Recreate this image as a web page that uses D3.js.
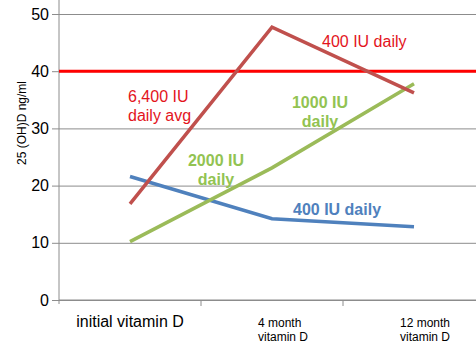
<!DOCTYPE html>
<html>
<head>
<meta charset="utf-8">
<script src="https://cdn.jsdelivr.net/npm/d3@7"></script>
<style>
  body { margin: 0; background: #fff; }
  svg { display: block; font-family: "Liberation Sans", Arial, sans-serif; }
</style>
</head>
<body>
<div id="chart"></div>
<script>
'use strict';

// Data.
var categories = ['initial vitamin D', '4 month vitamin D', '12 month vitamin D'];
var dose6400 = [16.8, 47.7, 36.2];
var dose2000 = [10.2, 23.1, 37.8];
var dose400 = [21.6, 14.2, 12.8];
var targetLevel = 40;
var yTicks = [0, 10, 20, 30, 40, 50];

var width = 476,
    height = 351,
    margin = {top: 0, left: 59, bottom: 51},
    plotRight = 485;

var svg = d3.select('#chart').append('svg')
    .attr('width', width)
    .attr('height', height);

var x = d3.scaleBand()
    .domain(categories)
    .range([margin.left, plotRight]);

var y = d3.scaleLinear()
    .domain([0, 50])
    .range([300, 14]);

// Grid lines.
svg.append('g')
    .attr('class', 'grid')
    .attr('transform', 'translate(' + margin.left + ',0)')
    .call(d3.axisLeft(y).tickValues(yTicks).tickSize(-(plotRight - margin.left)).tickFormat(''))
    .call(function (g) {
        g.select('.domain').remove();
        g.selectAll('line').attr('stroke', '#8c8c8c').attr('stroke-width', 1);
    });

// Left axis.
svg.append('g')
    .attr('class', 'axis')
    .attr('transform', 'translate(' + margin.left + ',0)')
    .call(d3.axisLeft(y).tickValues(yTicks).tickSize(7).tickPadding(3))
    .call(function (g) {
        g.select('.domain').remove();
        g.selectAll('line').attr('stroke', '#8c8c8c');
        g.selectAll('text').attr('font-size', '16px').attr('fill', '#000');
    });

svg.append('line')
    .attr('x1', margin.left).attr('x2', margin.left)
    .attr('y1', 0).attr('y2', y(0) + 4)
    .attr('stroke', '#8c8c8c');

// Bottom axis with band ticks.
svg.append('line')
    .attr('x1', margin.left).attr('x2', width)
    .attr('y1', y(0)).attr('y2', y(0))
    .attr('stroke', '#8c8c8c');

svg.selectAll('.band-tick')
    .data(categories.slice(1))
    .enter().append('line')
    .attr('class', 'band-tick')
    .attr('x1', function (d) { return x(d); })
    .attr('x2', function (d) { return x(d); })
    .attr('y1', y(0))
    .attr('y2', y(0) + 6)
    .attr('stroke', '#8c8c8c');

// Category labels.
svg.append('text')
    .attr('x', x(categories[0]) + x.bandwidth() / 2)
    .attr('y', 327)
    .attr('text-anchor', 'middle')
    .attr('font-size', '16px')
    .text(categories[0]);

categories.slice(1).forEach(function (c) {
    var parts = c.split(' ');
    var t = svg.append('text')
        .attr('x', x(c) + x.bandwidth() / 2 - 14)
        .attr('y', 327)
        .attr('font-size', '12px');
    t.append('tspan').text(parts[0] + ' ' + parts[1]);
    t.append('tspan')
        .attr('x', x(c) + x.bandwidth() / 2 - 14)
        .attr('dy', 14)
        .text(parts.slice(2).join(' '));
});

// Y axis title.
svg.append('text')
    .attr('transform', 'translate(26,123) rotate(-90)')
    .attr('text-anchor', 'middle')
    .attr('font-size', '12px')
    .text('25 (OH)D ng/ml');

// Target line at 40.
svg.append('line')
    .attr('x1', margin.left).attr('x2', width)
    .attr('y1', y(targetLevel)).attr('y2', y(targetLevel))
    .attr('stroke', '#ff0000')
    .attr('stroke-width', 3);

var line = d3.line()
    .x(function (d, i) { return x(categories[i]) + x.bandwidth() / 2; })
    .y(function (d) { return y(d); });

var series = [
    {values: dose400, color: '#4f81bd'},
    {values: dose2000, color: '#9bbb59'},
    {values: dose6400, color: '#c0504d'}
];

svg.selectAll('.series')
    .data(series)
    .enter().append('path')
    .attr('class', 'series')
    .attr('d', function (d) { return line(d.values); })
    .attr('fill', 'none')
    .attr('stroke', function (d) { return d.color; })
    .attr('stroke-width', 3.5);

// Annotations.
var notes = [
    {lines: ['400 IU daily'], x: 322, y: 47, color: '#e3141c', weight: 'normal', anchor: 'start'},
    {lines: ['6,400 IU', 'daily avg'], x: 128, y: 102, color: '#e3141c', weight: 'normal', anchor: 'start'},
    {lines: ['1000 IU', 'daily'], x: 320, y: 108, color: '#92c352', weight: 'bold', anchor: 'middle'},
    {lines: ['2000 IU', 'daily'], x: 216, y: 166, color: '#92c352', weight: 'bold', anchor: 'middle'},
    {lines: ['400 IU daily'], x: 293, y: 215, color: '#4f81bd', weight: 'bold', anchor: 'start'}
];

notes.forEach(function (n) {
    var t = svg.append('text')
        .attr('x', n.x)
        .attr('y', n.y)
        .attr('fill', n.color)
        .attr('font-weight', n.weight)
        .attr('text-anchor', n.anchor)
        .attr('font-size', '16px');
    n.lines.forEach(function (l, i) {
        t.append('tspan')
            .attr('x', n.x)
            .attr('dy', i === 0 ? 0 : 19)
            .text(l);
    });
});
</script>
</body>
</html>
